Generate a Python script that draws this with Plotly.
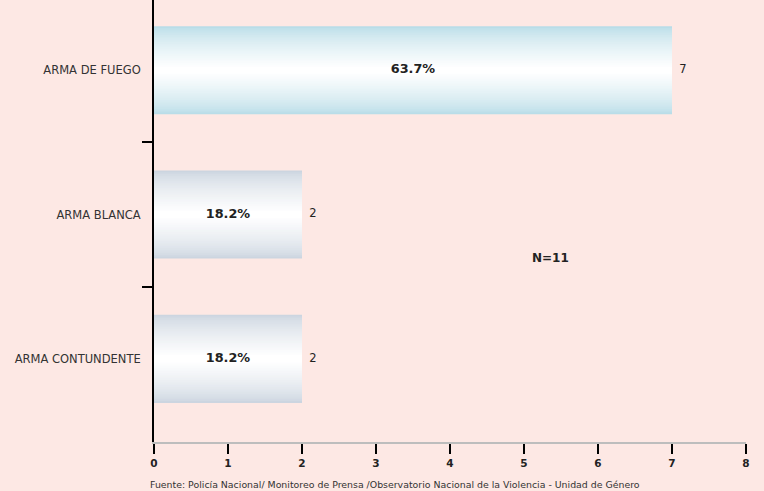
import plotly.graph_objects as go

categories = ["ARMA DE FUEGO", "ARMA BLANCA", "ARMA CONTUNDENTE"]
counts = [7, 2, 2]
percents = ["63.7%", "18.2%", "18.2%"]
edge_colors = [(185, 221, 232), (204, 213, 224), (204, 213, 224)]
x_ticks = [0, 1, 2, 3, 4, 5, 6, 7, 8]
total_label = "N=11"
source = "Fuente: Policía Nacional/ Monitoreo de Prensa /Observatorio Nacional de la Violencia - Unidad de Género"

ypos = list(range(len(categories)))
BAR_W = 0.61
N_LAYERS = 24
BG = "#fde8e4"

fig = go.Figure()

# gradient bars: overlays of narrowing bars, lighter toward center
for k in range(N_LAYERS):
    f = k / (N_LAYERS - 1)          # 0 at outer edge, 1 at center
    w = BAR_W * (1 - f * 0.92)
    mix = f ** 0.7
    cols = []
    for (r, g, b) in edge_colors:
        rr = int(r + (255 - r) * mix)
        gg = int(g + (255 - g) * mix)
        bb = int(b + (255 - b) * mix)
        cols.append(f"rgb({rr},{gg},{bb})")
    fig.add_trace(go.Bar(
        x=counts, y=ypos, orientation="h", width=w,
        marker=dict(color=cols, line=dict(width=0)),
        hoverinfo="skip", showlegend=False,
    ))

# percent labels in bar centers
fig.add_trace(go.Scatter(
    x=[c / 2 for c in counts], y=ypos, mode="text",
    text=percents, textposition="middle center",
    textfont=dict(family="DejaVu Sans", size=12.8, color="#222222", weight="bold"),
    showlegend=False, hoverinfo="skip",
))
# value labels at bar ends
fig.add_trace(go.Scatter(
    x=counts, y=ypos, mode="text", text=[str(c) for c in counts],
    texttemplate="  %{text}",
    textposition="middle right",
    textfont=dict(family="DejaVu Sans", size=11.5, color="#222222"),
    showlegend=False, hoverinfo="skip",
))

yrange = [2.576, -0.486]

fig.update_layout(
    width=764, height=491,
    margin=dict(l=154, r=18, t=0, b=49),
    paper_bgcolor=BG, plot_bgcolor=BG,
    barmode="overlay",
    xaxis=dict(
        range=[0, 8], tickvals=x_ticks, showgrid=False, zeroline=False,
        showline=True, linecolor="#bdbdbd", linewidth=2,
        ticks="outside", ticklen=10, tickwidth=2, tickcolor="black",
        tickfont=dict(family="DejaVu Sans", size=10.5, color="#222222", weight="bold"),
    ),
    yaxis=dict(
        range=yrange, tickvals=ypos, ticktext=categories, showgrid=False,
        zeroline=False, showline=True, linecolor="black", linewidth=2,
        ticks="", ticklabelstandoff=9,
        tickfont=dict(family="DejaVu Sans", size=11.5, color="#333333"),
    ),
    yaxis2=dict(
        range=yrange, overlaying="y", side="left", tickvals=[0.5, 1.5],
        showticklabels=False, ticks="outside", ticklen=11, tickwidth=2,
        tickcolor="black", showgrid=False, zeroline=False, showline=False,
    ),
    annotations=[
        dict(text=total_label, x=(550 - 154) / 592, y=1 - (258 / 442),
             xref="paper", yref="paper", showarrow=False, xanchor="center",
             font=dict(family="DejaVu Sans", size=12, color="#222222", weight="bold")),
        dict(text=source, x=(395 - 154) / 592, y=-(484 - 442) / 442,
             xref="paper", yref="paper", showarrow=False,
             xanchor="center", yanchor="middle",
             font=dict(family="DejaVu Sans", size=9.4, color="#333333")),
    ],
)

# dummy trace to activate yaxis2
fig.add_trace(go.Scatter(x=[None], y=[None], yaxis="y2", showlegend=False, hoverinfo="skip"))

fig.write_html("out.html", config={"displayModeBar": False},
               post_script="document.body.style.margin='0';")
